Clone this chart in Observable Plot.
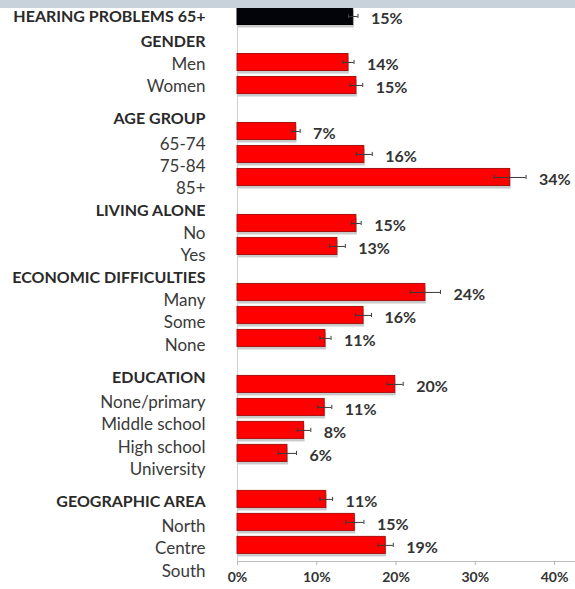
<!DOCTYPE html>
<html><head><meta charset="utf-8">
<script src="https://cdn.jsdelivr.net/npm/d3@7"></script>
<script src="https://cdn.jsdelivr.net/npm/@observablehq/plot@0.6"></script>
<style>
body{margin:0;background:#fff;width:575px;height:589px;overflow:hidden;position:relative;font-family:Lato,sans-serif}
#band{position:absolute;left:0;top:0;width:575px;height:8px;background:#c8d2da}
#chart svg{display:block}
</style></head><body>
<div id="chart"></div><div id="band"></div>
<script>
// ---- data ----
const overallLabel = "HEARING PROBLEMS 65+";
const overallValue = 14.6;
const overallError = 0.6;
const groupNames = ["GENDER", "AGE GROUP", "LIVING ALONE", "ECONOMIC DIFFICULTIES", "EDUCATION", "GEOGRAPHIC AREA"];
const groupCategories = [
  ["Men", "Women"],
  ["65-74", "75-84", "85+"],
  ["No", "Yes"],
  ["Many", "Some", "None"],
  ["None/primary", "Middle school", "High school", "University"],
  ["North", "Centre", "South"]
];
const groupValues = [
  [14.0, 15.0],
  [7.4, 16.0, 34.4],
  [15.0, 12.6],
  [23.7, 15.9, 11.1],
  [19.9, 11.0, 8.4, 6.3],
  [11.2, 14.8, 18.7]
];
const groupErrors = [
  [0.7, 0.8],
  [0.5, 1.0, 2.0],
  [0.6, 1.0],
  [1.9, 1.0, 0.7],
  [1.0, 0.9, 0.85, 1.15],
  [0.8, 1.15, 0.95]
];
const xTicks = [0, 10, 20, 30, 40];

// ---- layout (bars: one row per bar, a blank row for each group header) ----
const bars = [{row: 0, value: overallValue, err: overallError, overall: true}];
let row = 0;
groupNames.forEach((g, gi) => {
  row += 1; // header row
  groupValues[gi].forEach((v, i) => {
    row += 1;
    bars.push({row, value: v, err: groupErrors[gi][i], overall: false});
  });
});

// left labels flow as text lines (as in the original slide, not aligned to bars)
const wideGapGroups = new Set(["AGE GROUP", "EDUCATION", "GEOGRAPHIC AREA"]);
const lineStep = 0.972;
const lines = [{pos: 0, text: overallLabel, header: true}];
let pos = 0;
groupNames.forEach((g, gi) => {
  pos += lineStep + (wideGapGroups.has(g) ? 0.43 : (gi === 0 ? 0.15 : 0));
  lines.push({pos, text: g, header: true});
  groupCategories[gi].forEach((c, i) => {
    pos += lineStep + (i === 0 && wideGapGroups.has(g) ? 0.11 : 0);
    lines.push({pos, text: c, header: false});
  });
});

const half = 0.37;
const redBars = bars.filter(d => !d.overall);
const blackBars = bars.filter(d => d.overall);

const chart = Plot.plot({
  width: 575,
  height: 589,
  marginLeft: 237,
  marginRight: 0,
  marginTop: 4.5,
  marginBottom: 28,
  x: {domain: [0, 42.64], axis: null, label: null},
  y: {domain: [-0.5, 23.7], reverse: true, axis: null, label: null},
  style: {fontFamily: "Lato, sans-serif", overflow: "visible", background: "transparent"},
  marks: [
    Plot.ruleX([0], {y1: -0.5, y2: 23.7, stroke: "#cfcfcf"}),
    // shadows
    Plot.rect(bars, {x1: 0, x2: "value", y1: d => d.row - half, y2: d => d.row + half, fill: "#8a8a8a", fillOpacity: 0.45, dx: 1, dy: 3}),
    // bars
    Plot.rect(redBars, {x1: 0, x2: "value", y1: d => d.row - half, y2: d => d.row + half, fill: "#ff0000", stroke: "#a81010", strokeWidth: 1}),
    Plot.rect(blackBars, {x1: 0, x2: "value", y1: d => d.row - half, y2: d => d.row + half, fill: "#03030a", stroke: "#000", strokeWidth: 1}),
    // error bars
    Plot.ruleY(bars, {y: "row", x1: d => d.value - d.err, x2: d => d.value + d.err, stroke: "#3a3a3a", strokeWidth: 1}),
    Plot.ruleX(bars, {x: d => d.value - d.err, y1: d => d.row - 0.09, y2: d => d.row + 0.09, stroke: "#3a3a3a", strokeWidth: 1}),
    Plot.ruleX(bars, {x: d => d.value + d.err, y1: d => d.row - 0.09, y2: d => d.row + 0.09, stroke: "#3a3a3a", strokeWidth: 1}),
    // value labels
    Plot.text(bars, {x: d => d.value + d.err, y: "row", text: d => Math.round(d.value) + "%", dx: 13, dy: 2, textAnchor: "start", fontWeight: "bold", fontSize: 16, fill: "#333"}),
    // left labels
    Plot.text(lines.filter(d => d.header), {y: "pos", text: "text", frameAnchor: "left", dx: -32, textAnchor: "end", fontWeight: "bold", fontSize: 16, fill: "#2a2a2a"}),
    Plot.text(lines.filter(d => !d.header), {y: "pos", text: "text", frameAnchor: "left", dx: -32, textAnchor: "end", fontSize: 17, fill: "#3a3a3a"}),
    // x axis
    Plot.ruleY([23.7], {stroke: "#bdbdbd"}),
    Plot.axisX(xTicks, {anchor: "bottom", label: null, tickSize: 4, tickPadding: 7, tickFormat: d => d + "%", fontWeight: "bold", fontSize: 14, stroke: "#b5b5b5", fill: "#333"})
  ]
});
document.getElementById("chart").appendChild(chart);
</script>
</body></html>
